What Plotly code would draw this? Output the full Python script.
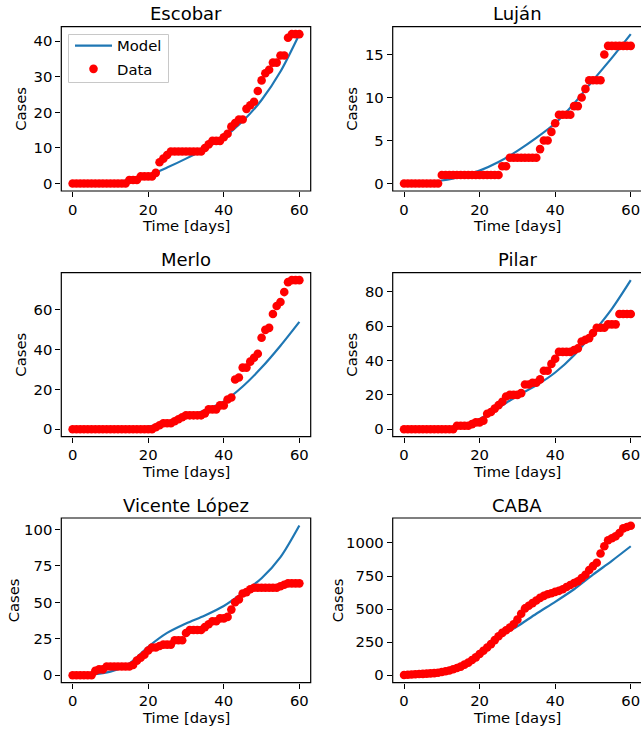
import plotly.graph_objects as go

W, H = 641, 729

days = list(range(61))

escobar = [0, 0, 0, 0, 0, 0, 0, 0, 0, 0, 0, 0, 0, 0, 0,
           1, 1, 1, 2, 2, 2, 2, 3, 6, 7, 8,
           9, 9, 9, 9, 9, 9, 9, 9, 9,
           10, 11, 12, 12, 12, 13, 14, 16, 17, 18, 18, 21, 22, 23, 26, 29,
           31, 32, 34, 34, 36, 36, 41, 42, 42, 42]
lujan = [0, 0, 0, 0, 0, 0, 0, 0, 0, 0,
         1, 1, 1, 1, 1, 1, 1, 1, 1, 1, 1, 1, 1, 1, 1, 1,
         2, 2, 3, 3, 3, 3, 3, 3, 3, 3,
         4, 5, 5, 6, 7, 8, 8, 8, 8, 9, 9, 10, 11, 12, 12, 12, 12, 15,
         16, 16, 16, 16, 16, 16, 16]
merlo = [0, 0, 0, 0, 0, 0, 0, 0, 0, 0, 0, 0, 0, 0, 0, 0, 0, 0, 0, 0, 0, 0,
         1, 2, 3, 3, 3, 4, 5, 6, 7, 7, 7, 7, 7, 8, 10, 10, 10, 12, 12,
         15, 16, 25, 26, 31, 31, 34, 36, 38, 46, 50, 51, 58, 62, 64, 69,
         74, 75, 75, 75]
pilar = [0, 0, 0, 0, 0, 0, 0, 0, 0, 0, 0, 0, 0, 0,
         2, 2, 2, 2, 3, 4, 4, 5, 9, 10, 12, 14, 16, 19, 20, 20, 20, 21,
         26, 26, 27, 27, 29, 34, 34, 38, 41, 45, 45, 45, 45, 46, 47, 51,
         52, 53, 56, 59, 59, 59, 61, 61, 61, 67, 67, 67, 67]
vicente_lopez = [0, 0, 0, 0, 0, 0, 3, 4, 4, 6, 6, 6, 6, 6, 6, 6,
                 7, 10, 12, 14, 17, 19, 19, 20, 21, 21, 21, 24, 24, 24, 29,
                 31, 31, 31, 31, 33, 35, 37, 37, 39, 39, 40, 45, 50, 52, 56,
                 57, 59, 60, 60, 60, 60, 60, 60, 60, 61, 62, 63, 63, 63, 63]
caba = [2, 3, 5, 7, 9, 10, 12, 14, 16, 19,
        24, 30, 36, 45, 55, 65, 80, 95, 115, 135,
        160, 185, 210, 235, 265, 295, 320, 340, 360, 385,
        420, 465, 505, 525, 545, 565, 585, 600, 612, 620,
        630, 638, 650, 667, 682, 697, 710, 735, 760, 795,
        825, 850, 920, 975, 1020, 1035, 1050, 1075, 1110, 1120, 1130]

model_days = [0, 5, 10, 15, 20, 25, 30, 35, 40, 45, 50, 55, 60]
escobar_model = [0, 0.1, 0.4, 1.0, 2.3, 4.5, 7.0, 9.8, 13.0, 17.5, 23.5, 31.5, 42.0]
lujan_model = [0, 0.05, 0.35, 0.8, 1.5, 2.5, 3.8, 5.3, 7.0, 9.3, 12.0, 14.6, 17.36]
merlo_model = [0, 0.0, 0.1, 0.4, 1.3, 3.2, 6.0, 9.5, 14.0, 21.5, 31.0, 42.0, 54.0]
pilar_model = [0, 0.0, 0.3, 1.5, 6.0, 12.5, 19.5, 25.5, 33.0, 43.0, 56.0, 70.0, 86.7]
vicente_lopez_model = [0, 0.5, 2.5, 8.0, 19.5, 29.0, 35.5, 41.0, 47.5, 56.5, 66.5, 81.0, 102.7]
caba_model = [0, 8, 22, 60, 150, 285, 370, 465, 555, 650, 760, 865, 975]

titles = ["Escobar", "Luján", "Merlo", "Pilar", "Vicente López", "CABA"]
data_series = [escobar, lujan, merlo, pilar, vicente_lopez, caba]
model_series = [escobar_model, lujan_model, merlo_model, pilar_model,
                vicente_lopez_model, caba_model]
y_ticks = [[0, 10, 20, 30, 40], [0, 5, 10, 15], [0, 20, 40, 60],
           [0, 20, 40, 60, 80], [0, 25, 50, 75, 100], [0, 250, 500, 750, 1000]]
x_ticks = [0, 20, 40, 60]
y_maxes = [42, 17.36, 75, 86.7, 102.7, 1132]

# layout in pixels
cols = [(61.3, 310.7), (392.7, 641.0)]
rows = [(26.7, 191.0), (272.7, 436.7), (518.0, 682.7)]
ylabel_x = [21, 352, 21, 352, 13, 337]

FONT = "DejaVu Sans"
FS = 14.8
TFS = 18
fig = go.Figure()
annotations = []
shapes = []

for i in range(6):
    r, c = divmod(i, 2)
    n = i + 1
    xa = "x" if n == 1 else f"x{n}"
    ya = "y" if n == 1 else f"y{n}"
    x0p, x1p = cols[c]
    y0p, y1p = rows[r]
    full_w = 249.4
    xr_end = -3 + 66 * (x1p - x0p) / full_w
    m = y_maxes[i]
    fig.add_trace(go.Scatter(x=model_days, y=model_series[i], mode="lines",
                             line=dict(color="#1f77b4", width=2.2, shape="spline", smoothing=0.8),
                             name="Model", showlegend=(i == 0), legendgroup="m",
                             hoverinfo="skip", xaxis=xa, yaxis=ya))
    fig.add_trace(go.Scatter(x=days, y=data_series[i], mode="markers",
                             marker=dict(color="#ff0000", size=8.6),
                             name="Data", showlegend=(i == 0), legendgroup="d",
                             hoverinfo="skip", xaxis=xa, yaxis=ya))
    axcommon = dict(showgrid=False, zeroline=False, showline=False, ticks="outside",
                    ticklen=5, tickwidth=1.2, tickcolor="black",
                    tickfont=dict(family=FONT, size=FS, color="black"))
    fig.layout[("xaxis" if n == 1 else f"xaxis{n}")] = dict(
        domain=[x0p / W, x1p / W], range=[-3, xr_end], tickvals=x_ticks,
        anchor=ya, **axcommon)
    fig.layout[("yaxis" if n == 1 else f"yaxis{n}")] = dict(
        domain=[1 - y1p / H, 1 - y0p / H], range=[-0.05 * m, 1.05 * m],
        tickvals=y_ticks[i], anchor=xa, **axcommon)
    # box
    shapes.append(dict(type="rect", xref="paper", yref="paper",
                       x0=x0p / W, x1=(x1p + (3 if c == 1 else 0)) / W,
                       y0=1 - y1p / H, y1=1 - y0p / H,
                       line=dict(color="black", width=1.2), layer="above"))
    xc = (cols[c][0] + cols[c][0] + 249.4) / 2
    annotations.append(dict(text=titles[i], x=xc / W, y=1 - (y0p - 0.5) / H,
                            xref="paper", yref="paper", xanchor="center", yanchor="bottom",
                            showarrow=False, font=dict(family=FONT, size=TFS, color="black")))
    annotations.append(dict(text="Time [days]", x=xc / W, y=1 - (y1p + 24) / H,
                            xref="paper", yref="paper", xanchor="center", yanchor="top",
                            showarrow=False, font=dict(family=FONT, size=FS, color="black")))
    annotations.append(dict(text="Cases", x=ylabel_x[i] / W, y=1 - (y0p + y1p) / 2 / H,
                            xref="paper", yref="paper", xanchor="center", yanchor="middle",
                            textangle=-90,
                            showarrow=False, font=dict(family=FONT, size=FS, color="black")))

# legend frame (pixel-aligned)
lx0, lx1, ly0, ly1 = 68.5, 168.5, 34.5, 82.5
shapes.append(dict(type="rect", xref="paper", yref="paper",
                   x0=lx0 / W, x1=lx1 / W, y0=1 - ly1 / H, y1=1 - ly0 / H,
                   fillcolor="rgba(255,255,255,0.8)", line=dict(color="#c8c8c8", width=1),
                   layer="above"))

fig.update_layout(
    width=W, height=H, margin=dict(l=0, r=0, t=0, b=0),
    paper_bgcolor="white", plot_bgcolor="white",
    annotations=annotations, shapes=shapes,
    showlegend=True,
    legend=dict(x=70 / W, y=1 - 29.5 / H, xanchor="left", yanchor="top",
                bgcolor="rgba(0,0,0,0)", borderwidth=0,
                font=dict(family=FONT, size=FS, color="black"),
                tracegroupgap=1, itemwidth=37),
)

fig.write_html("out.html", config={"displayModeBar": False},
               post_script="document.body.style.margin='0';document.body.style.overflow='hidden';")
